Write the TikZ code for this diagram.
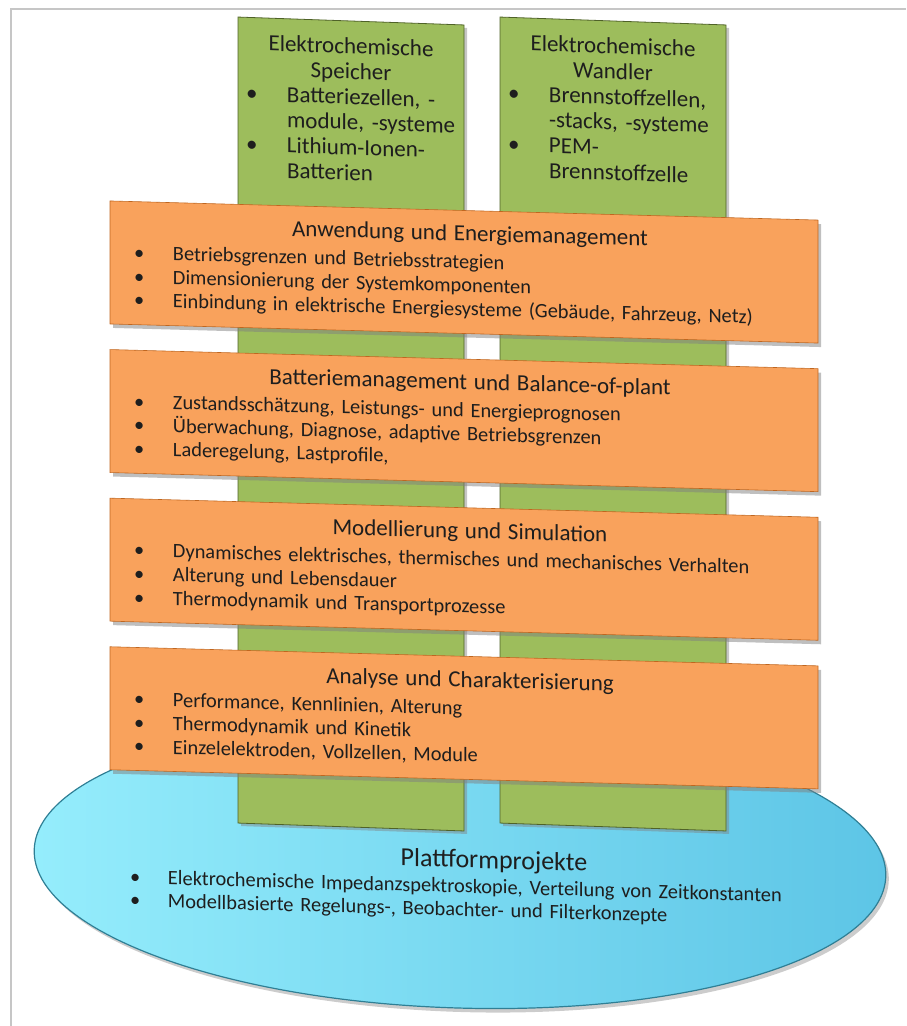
\documentclass[tikz,border=0pt]{standalone}
\usepackage{fontspec}
\setmainfont{Carlito}
\usetikzlibrary{shapes.geometric, shadows, positioning}
\definecolor{pgreen}{HTML}{9DBD5C}
\definecolor{pgreendk}{HTML}{4F6228}
\definecolor{porange}{HTML}{F9A25C}
\definecolor{porangedk}{HTML}{C0661F}
\definecolor{pcyanlt}{HTML}{95EDFC}
\definecolor{pcyandk}{HTML}{5DC5E6}
\definecolor{pteal}{HTML}{2F7F95}
\definecolor{ptext}{HTML}{1E1E1E}
\definecolor{pframe}{HTML}{C6C6C6}
\newcommand{\ttl}{\fontsize{23}{27}\selectfont}
\newcommand{\itm}[3]{\par\noindent\hangindent=#2\hangafter=1\makebox[#2][l]{\hspace*{#1}\textbullet}#3\par}
\tikzset{
  pillarbox/.style={rectangle, draw=pgreendk, fill=pgreen, line width=0.8pt,
                    minimum width=226pt, minimum height=806pt, yslant=-0.035,
                    drop shadow={opacity=0.45, shadow xshift=3pt, shadow yshift=-3pt}},
  pillartext/.style={text=ptext, text width=220pt, align=left, inner sep=0pt,
                     font=\fontsize{23}{25.3}\selectfont, yslant=-0.035},
  layerbox/.style={rectangle, draw=porangedk, fill=porange, line width=0.6pt,
                   minimum width=708pt, minimum height=123pt, text width=708pt,
                   inner xsep=0pt, align=left, text=ptext, font=\fontsize{20.4}{23.6}\selectfont,
                   yslant=-0.027, drop shadow={opacity=0.5, shadow xshift=3pt, shadow yshift=-4pt}},
  platbox/.style={ellipse, draw=pteal, line width=1.2pt, left color=pcyanlt, right color=pcyandk,
                  minimum width=852pt, minimum height=290pt, rotate=-1.8,
                  drop shadow={opacity=0.4, shadow xshift=3pt, shadow yshift=-4pt}},
  plattext/.style={text=ptext, text width=700pt, align=left, inner sep=0pt,
                   font=\fontsize{20.4}{23.2}\selectfont, yslant=-0.028}
}
\begin{document}
\begin{tikzpicture}[x=1pt, y=-1pt]
  \useasboundingbox (0,0) rectangle (906,1026);
  \draw[pframe, line width=1.5pt] (11,1026) -- (11,9) -- (906,9);

  % platform
  \node[platbox] (plat) at (460,863) {};
  \node[plattext] (plattxt) at (478,885) {%
    {\centering\hspace*{32pt}\fontsize{26}{29}\selectfont Plattformprojekte\par}\vspace{2pt}
    \itm{2pt}{40pt}{Elektrochemische Impedanzspektroskopie, Verteilung von Zeitkonstanten}
    \itm{2pt}{40pt}{Modellbasierte Regelungs-, Beobachter- und Filterkonzepte}};

  % pillars
  \node[pillarbox] (spei) at (351,424) {};
  \node[pillarbox] (wand) at (613,424) {};
  \node[pillartext, below=17pt of spei.north] (speitxt) {%
    {\centering Elektrochemische\\Speicher\par}
    \itm{5pt}{46pt}{Batteriezellen, -\newline module, -systeme}
    \itm{5pt}{46pt}{Lithium-Ionen-\newline Batterien}};
  \node[pillartext, below=17pt of wand.north] (wandtxt) {%
    {\centering Elektrochemische\\Wandler\par}
    \itm{5pt}{46pt}{Brennstoffzellen,\newline -stacks, -systeme}
    \itm{5pt}{46pt}{PEM-\newline Brennstoffzelle}};

  % layers
  \node[layerbox] (anw) at (464,272) {%
    {\centering\hspace*{12pt}\ttl Anwendung und Energiemanagement\par}\vspace{4pt}
    \itm{24pt}{63pt}{Betriebsgrenzen und Betriebsstrategien}
    \itm{24pt}{63pt}{Dimensionierung der Systemkomponenten}
    \itm{24pt}{63pt}{Einbindung in elektrische Energiesysteme (Gebäude, Fahrzeug, Netz)}};
  \node[layerbox, below=25pt of anw] (bms) {%
    {\centering\hspace*{12pt}\ttl Batteriemanagement und Balance-of-plant\par}\vspace{4pt}
    \itm{24pt}{63pt}{Zustandsschätzung, Leistungs- und Energieprognosen}
    \itm{24pt}{63pt}{Überwachung, Diagnose, adaptive Betriebsgrenzen}
    \itm{24pt}{63pt}{Laderegelung, Lastprofile,}};
  \node[layerbox, below=25pt of bms] (mod) {%
    {\centering\hspace*{12pt}\ttl Modellierung und Simulation\par}\vspace{4pt}
    \itm{24pt}{63pt}{Dynamisches elektrisches, thermisches und mechanisches Verhalten}
    \itm{24pt}{63pt}{Alterung und Lebensdauer}
    \itm{24pt}{63pt}{Thermodynamik und Transportprozesse}};
  \node[layerbox, below=25pt of mod] (ana) {%
    {\centering\hspace*{12pt}\ttl Analyse und Charakterisierung\par}\vspace{4pt}
    \itm{24pt}{63pt}{Performance, Kennlinien, Alterung}
    \itm{24pt}{63pt}{Thermodynamik und Kinetik}
    \itm{24pt}{63pt}{Einzelelektroden, Vollzellen, Module}};
\end{tikzpicture}
\end{document}
